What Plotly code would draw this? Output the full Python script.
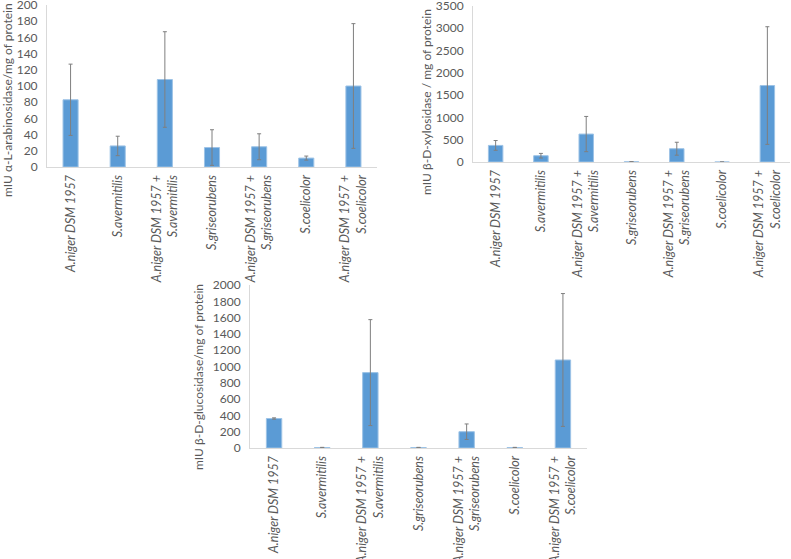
import plotly.graph_objects as go

categories = [
    "A.niger DSM 1957",
    "S.avermitilis",
    "A.niger DSM 1957 +<br>S.avermitilis",
    "S.griseorubens",
    "A.niger DSM 1957 +<br>S.griseorubens",
    "S.coelicolor",
    "A.niger DSM 1957 +<br>S.coelicolor",
]

arabinosidase = [83, 26, 108, 24, 25, 11, 100]
arabinosidase_err = [44, 12, 59, 22, 16, 2.5, 77]

xylosidase = [372, 141, 627, 5, 298, 0, 1715]
xylosidase_err = [110, 52, 395, 3, 145, 0, 1320]

glucosidase = [362, 6, 925, 6, 200, 6, 1080]
glucosidase_err = [8, 2, 650, 2, 95, 2, 815]

titles = [
    "mIU α-L-arabinosidase/mg of protein",
    "mIU β-D-xylosidase / mg of protein",
    "mIU β-D-glucosidase/mg of protein",
]

W, H = 791, 559
FONT = "Lato"
GRAY = "#595959"
BAR = "#5B9BD5"

fig = go.Figure()

panels = [
    (arabinosidase, arabinosidase_err, "x", "y"),
    (xylosidase, xylosidase_err, "x2", "y2"),
    (glucosidase, glucosidase_err, "x3", "y3"),
]
for vals, errs, xa, ya in panels:
    fig.add_trace(go.Bar(
        x=categories, y=vals, xaxis=xa, yaxis=ya,
        marker=dict(color=BAR, line=dict(color="#9DC3E6", width=1)),
        error_y=dict(type="data", array=errs, visible=True,
                     color="#7f7f7f", thickness=1, width=2),
        showlegend=False,
    ))

def px_dom_x(a, b):
    return [a / W, b / W]

def px_dom_y(top, bottom):
    return [1 - bottom / H, 1 - top / H]

xaxis_common = dict(
    type="category", showgrid=False, showline=True, linecolor="#d9d9d9",
    linewidth=1, ticks="", tickangle=-90, automargin=False,
    tickfont=dict(family=FONT, size=12.5, color=GRAY, style="italic"),
    zeroline=False, fixedrange=True, ticklabeloverflow="allow",
    ticklabelstandoff=2,
)
yaxis_common = dict(
    showgrid=False, showline=True, linecolor="#d9d9d9", linewidth=1,
    ticks="", tickfont=dict(family=FONT, size=12, color=GRAY),
    zeroline=False, ticklabelstandoff=6, automargin=False,
    ticklabeloverflow="allow",
)

fig.update_layout(
    width=W, height=H,
    margin=dict(l=0, r=0, t=0, b=0),
    paper_bgcolor="white", plot_bgcolor="white",
    bargap=0.68,
    xaxis=dict(xaxis_common, domain=px_dom_x(47, 377), anchor="y"),
    yaxis=dict(yaxis_common, domain=px_dom_y(5, 167), range=[0, 200], dtick=20, anchor="x"),
    xaxis2=dict(xaxis_common, domain=px_dom_x(473, 790), anchor="y2"),
    yaxis2=dict(yaxis_common, domain=px_dom_y(6, 162), range=[0, 3500], dtick=500, anchor="x2"),
    xaxis3=dict(xaxis_common, domain=px_dom_x(250, 587), anchor="y3"),
    yaxis3=dict(yaxis_common, domain=px_dom_y(285, 448), range=[0, 2000], dtick=200, anchor="x3"),
)

title_pos = [(7, 100), (427, 102), (198, 377)]
for t, (xp, yp) in zip(titles, title_pos):
    fig.add_annotation(
        text=t, x=xp / W, y=1 - yp / H, xref="paper", yref="paper",
        textangle=-90, showarrow=False, xanchor="center", yanchor="middle",
        font=dict(family=FONT, size=12, color=GRAY),
    )

fig.write_html(
    "out.html",
    config={"displayModeBar": False},
    post_script="document.body.style.margin='0';document.body.style.overflow='hidden';",
)
